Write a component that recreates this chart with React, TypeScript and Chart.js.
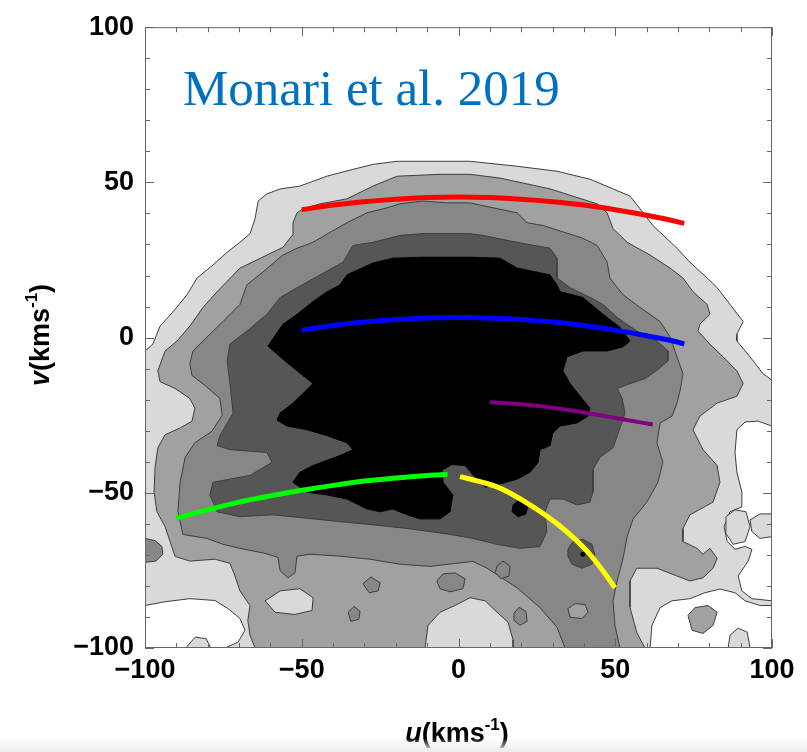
import React, { useEffect, useRef } from "react";
import { Chart, registerables } from "chart.js";

Chart.register(...registerables);

type P = [number, number];

// ---- contour polygons (u, v in km/s) ----
const level1Outer: P[] = [
  [-100, -4.3], [-97.5, -2.1], [-95.2, 3.7], [-91, 8.4], [-86.6, 13.8], [-83.4, 19.2], [-78.3, 23.4],
  [-73.8, 27.5], [-69.7, 30.7], [-66.5, 33.5], [-64.9, 38.3], [-63.9, 44], [-61.1, 46.3], [-56.9, 47.9],
  [-50.6, 48.8], [-42, 52], [-33.7, 54.2], [-27.3, 55.8], [-19.6, 56.8], [-10, 56.8], [3.7, 56.8],
  [18.7, 55.2], [31.4, 53.6], [42, 51], [54.7, 45.6], [57.9, 41.5], [62, 36.1], [69.7, 28.8],
  [73.8, 24.3], [79.3, 19.2], [82.5, 16.1], [86.6, 10.7], [90.8, 5.2], [88.8, 1.1], [88.8, -1.1],
  [93, -6.2], [97.1, -11.6], [100, -13.8], [100, -100], [-100, -100],
];

const whiteHoleLeft: P[] = [
  [-100, -86.3], [-93.6, -85.1], [-85.7, -84.1], [-77.7, -84.7], [-73.5, -87.3], [-69.7, -90.5],
  [-68.1, -94.3], [-70.3, -98.1], [-74.5, -100], [-79, -100], [-80.5, -97], [-84, -96.5], [-87, -100],
  [-100, -100],
];
const whiteHoleRight: P[] = [
  [88.8, -29.7], [91.4, -27.2], [95.5, -26.9], [100, -28.5], [100, -84.8], [93.6, -84.1], [90.4, -81.6],
  [89.2, -76.8], [92.4, -72.0], [93.6, -68.2], [91.4, -67.3], [88.2, -68.2], [85.7, -65.7], [84.7, -60.9],
  [86.6, -56.1], [90.4, -54.5], [90.4, -49.8], [88.8, -43.4], [88.2, -37.0],
];
const whiteHoleBottomRight: P[] = [
  [61.1, -100], [61.7, -92.7], [64.3, -87.0], [68.1, -84.8], [73.8, -84.1], [78.6, -82.2], [83.4, -81.0],
  [88.2, -82.2], [91.4, -84.8], [96.2, -86.3], [100, -86.3], [100, -100],
];

const lightInWhiteA: P[] = [[85.3, -57.7], [88.2, -55.5], [91.7, -56.1], [93.0, -60.9], [91.4, -65.7], [87.6, -66.6], [85.3, -63.1]];
const lightInWhiteB: P[] = [[93.0, -58.7], [96.2, -56.8], [100, -56.8], [100, -64.1], [96.2, -64.7], [93.6, -62.5]];
const lightCircleBottomRight: P[] = [[86, -100], [86.6, -95.9], [89.2, -93.6], [92.1, -94.9], [93, -100]];
const grayBlobInWhite: P[] = [[73.2, -89.5], [75.4, -87.0], [79.6, -86.3], [82.5, -88.5], [81.2, -92.7], [78.0, -95.3], [74.5, -94.3]];

const level2Region: P[] = [
  [-95.9, -10.7], [-93.6, -4.3], [-89.8, -1.1], [-85.7, 3.7], [-81.5, 9.7], [-77.0, 14.8], [-69.7, 22.4],
  [-61.1, 26.6], [-56.0, 29.1], [-53.1, 32.9], [-52.8, 37.0], [-51.5, 40.2], [-49.6, 41.5], [-44.2, 43.1],
  [-35.6, 44.7], [-27.3, 48.8], [-19.6, 52.0], [-5.9, 52.6], [3.7, 52.6], [13.2, 51.4], [29.2, 47.9],
  [44.2, 43.1], [47.4, 40.2], [49.3, 35.1], [53.8, 30.7], [61.1, 26.6], [67.5, 22.4], [71.6, 19.2],
  [74.8, 14.8], [79.3, 10.7], [80.2, 7.5], [77.0, 4.3], [76.4, 2.1], [80.2, -2.1], [84.4, -6.2],
  [88.8, -10.7], [90.8, -14.8], [88.8, -18.9], [82.5, -21.1], [77.0, -25.3], [74.8, -29.7], [78.0, -36.1],
  [82.5, -41.2], [83.4, -46.6], [81.2, -53.0], [73.8, -57.1], [71.6, -61.5], [71.6, -65.7], [76.1, -67.9],
  [78.0, -69.8], [80.2, -67.9], [82.5, -71.1], [81.2, -74.3], [78.0, -77.4], [73.8, -78.4], [63.3, -74.3],
  [56.9, -74.3], [54.7, -78.4], [54.7, -86.9], [56.9, -95.1], [59.5, -100], [-64.9, -100], [-66.5, -95.9],
  [-67.2, -91.1], [-66.5, -86.3], [-69.7, -81.6], [-71.3, -76.8], [-72.9, -72.7], [-77.7, -71.4],
  [-85.7, -72.0], [-90.4, -70.5], [-92.0, -65.7], [-93.6, -60.9], [-96.2, -56.1], [-97.1, -49.8],
  [-96.8, -41.8], [-95.9, -35.5], [-93.6, -31.3], [-88.8, -29.1], [-85.0, -26.9], [-84.1, -22.7],
  [-85.7, -19.6], [-90.4, -16.4], [-95.2, -14.2],
];

const lightBlobBottom: P[] = [
  [-10.7, -100], [-9.7, -92.7], [-5.9, -88.5], [-1.1, -86.3], [3.7, -83.8], [8.5, -84.8], [12.3, -88.5],
  [15.8, -91.7], [17.4, -97.4], [17.4, -100],
];
const lightBumpLeft: P[] = [[-61.7, -84.8], [-56.9, -81.6], [-50.6, -80.9], [-46.4, -83.8], [-46.7, -87.9], [-52.2, -89.2], [-58.5, -88.5]];

const level3Region: P[] = [
  [-85.7, -8.4], [-84.7, -4.3], [-80.2, 0.2], [-75.1, 5.2], [-69.7, 10.7], [-67.5, 17.0], [-62.4, 21.1],
  [-56.0, 26.6], [-51.5, 28.8], [-46.4, 30.7], [-41.0, 33.9], [-35.6, 37.0], [-29.2, 40.2], [-22.8, 41.8],
  [-18.7, 43.1], [-11.3, 44.0], [-3.7, 43.4], [3.7, 43.4], [7.8, 42.5], [18.7, 40.2], [21.9, 37.0],
  [27.0, 36.1], [39.7, 32.0], [44.2, 29.7], [47.4, 24.3], [48.3, 19.2], [52.5, 13.8], [57.9, 9.7],
  [64.3, 5.2], [67.5, 0.2], [69.7, -6.2], [71.6, -11.6], [70.7, -17.0], [69.7, -21.1], [68.1, -25.3],
  [64.3, -27.5], [63.3, -33.9], [65.2, -40.2], [63.6, -46.6], [60.1, -53.0], [55.7, -58.4], [53.8, -64.1],
  [52.5, -71.1], [50.6, -78.4], [49.3, -84.8], [49.9, -92.7], [51.5, -100], [34.0, -100], [31.4, -93.3],
  [26.0, -87.0], [18.7, -80.6], [9.1, -74.3], [4.6, -72.1], [-9.1, -73.7], [-18.7, -73.0], [-28.2, -71.4],
  [-37.8, -70.4], [-47.4, -69.8], [-51.5, -70.4], [-52.2, -75.8], [-54.4, -77.4], [-56.9, -75.1],
  [-57.6, -70.8], [-61.7, -69.5], [-69.7, -67.9], [-75.1, -66.6], [-80.2, -64.7], [-87.9, -63.4],
  [-89.5, -56.1], [-88.8, -46.6], [-87.2, -38.6], [-84.1, -33.9], [-78.6, -30.1], [-75.4, -25.0],
  [-76.1, -19.6], [-80.9, -15.4], [-85.0, -12.2],
];

const level3Islands: P[][] = [
  [[12.3, -73.6], [14.2, -72.0], [16.4, -73.6], [16.1, -76.8], [13.6, -77.7], [11.7, -75.8]],
  [[-6.9, -78.4], [-4.9, -76.1], [-1.1, -75.8], [2.1, -77.7], [1.4, -80.9], [-2.7, -81.9], [-5.9, -80.9]],
  [[17.7, -88.8], [19.3, -86.9], [21.5, -88.2], [21.9, -91.4], [19.6, -92.7], [17.7, -91.1]],
  [[-30.5, -79.3], [-27.9, -77.1], [-25.0, -79.0], [-25.6, -81.6], [-28.5, -82.2]],
  [[-35.2, -88.5], [-33.3, -86.6], [-31.4, -88.2], [-31.8, -90.8], [-34.3, -91.4]],
  [[-100, -64.7], [-96.8, -65.4], [-94.6, -67.3], [-94.3, -69.8], [-96.5, -72.0], [-100, -72.4]],
];
const level2IslandInLevel3: P[] = [[34.9, -87.3], [37.2, -85.7], [40.4, -86.0], [41.3, -88.5], [39.4, -90.5], [35.6, -90.1]];

const level4Region: P[] = [
  [-73.8, -7.5], [-72.9, -2.1], [-67.5, 2.1], [-61.1, 7.5], [-56.9, 12.9], [-51.5, 16.1], [-44.2, 20.2],
  [-36.8, 24.3], [-33.7, 29.7], [-27.3, 30.7], [-18.7, 32.9], [-11.3, 33.5], [-5.9, 33.5], [3.7, 33.5],
  [7.8, 32.9], [18.7, 30.7], [29.2, 28.8], [31.4, 25.6], [31.4, 19.2], [35.6, 16.1], [42.0, 12.9],
  [46.1, 10.7], [50.6, 6.5], [56.9, 2.1], [63.3, -1.1], [66.8, -4.3], [66.8, -7.5], [63.6, -10.3],
  [59.5, -13.2], [54.7, -14.8], [50.6, -16.4], [52.2, -19.6], [53.1, -24.3], [51.5, -29.1], [49.3, -35.5],
  [45.1, -38.6], [42.9, -42.5], [42.9, -49.8], [41.9, -53.0], [37.8, -53.9], [33.3, -52.0], [29.2, -52.0],
  [27.6, -56.1], [28.2, -62.5], [26.0, -67.3], [19.6, -67.9], [12.3, -66.6], [4.6, -64.7], [-2.7, -63.4],
  [-9.1, -62.5], [-16.4, -61.5], [-27.3, -60.3], [-37.8, -59.3], [-46.4, -58.4], [-59.2, -57.1],
  [-69.7, -57.7], [-77.0, -56.1], [-79.3, -50.7], [-78.3, -46.6], [-66.5, -44.4], [-59.5, -40.2],
  [-61.1, -37.0], [-72.9, -36.1], [-77.0, -34.8], [-76.1, -31.6], [-71.9, -24.3], [-72.9, -14.8],
];
const level4Circle: P[] = [
  [34.9, -68.2], [36.5, -65.7], [39.7, -65.0], [42.6, -66.6], [43.5, -69.8], [42.6, -73.0], [39.4, -74.3],
  [36.2, -73.0], [34.9, -70.4],
];

const level5Region: P[] = [
  [-60.8, -2.7], [-56.0, 4.3], [-51.5, 7.5], [-46.4, 11.6], [-41.9, 14.8], [-37.8, 17.0], [-35.6, 20.2],
  [-33.7, 21.1], [-27.3, 24.0], [-20.9, 25.6], [-11.3, 25.9], [3.7, 25.9], [13.2, 25.6], [18.7, 22.4],
  [29.2, 20.2], [31.4, 17.0], [32.4, 14.8], [39.7, 12.9], [46.1, 7.5], [51.5, 3.3], [54.7, -1.1],
  [52.5, -3.0], [47.4, -4.3], [39.7, -4.3], [34.6, -6.2], [33.3, -10.7], [35.6, -14.8], [38.8, -18.9],
  [41.9, -22.7], [41.3, -25.3], [37.8, -27.5], [32.4, -28.5], [30.1, -30.7], [29.2, -34.8], [26.0, -36.1],
  [25.4, -40.2], [22.8, -43.4], [18.7, -45.6], [13.2, -47.2], [8.5, -48.2], [5.3, -45.0], [2.1, -41.2],
  [-2.1, -40.9], [-5.3, -42.8], [-4.9, -46.6], [-1.8, -50.7], [-2.7, -56.1], [-5.9, -58.4], [-12.3, -58.4],
  [-16.4, -57.1], [-20.9, -55.2], [-25.0, -56.1], [-29.2, -55.2], [-35.6, -52.0], [-41.9, -50.7],
  [-48.3, -49.8], [-52.8, -46.6], [-50.6, -43.4], [-46.4, -41.2], [-37.8, -38.0], [-33.7, -36.1],
  [-35.6, -33.9], [-41.9, -31.6], [-48.3, -29.7], [-54.7, -28.5], [-57.9, -26.6], [-56.9, -24.3],
  [-52.8, -21.1], [-49.6, -18.0], [-46.4, -14.8], [-51.5, -10.7], [-56.9, -6.2],
];
const level5Blob: P[] = [[17.4, -53.9], [19.6, -52.0], [22.2, -53.9], [21.5, -56.8], [19.0, -57.7], [17.1, -56.1]];
const level5Dot: P[] = [[39.7, -69.8]];

// ---- resonance curves ----
const redU = [-50, -40, -30, -20, -10, 0, 10, 20, 30, 40, 50, 60, 70, 72];
const redV = [41.2, 42.7, 43.8, 44.6, 45.1, 45.3, 45.1, 44.6, 43.8, 42.7, 41.2, 39.4, 37.3, 36.8];
const blueU = [-50, -40, -30, -20, -10, 0, 10, 20, 30, 40, 50, 60, 70, 72];
const blueV = [2.4, 3.9, 5.0, 5.8, 6.3, 6.5, 6.3, 5.8, 5.0, 3.9, 2.4, 0.6, -1.5, -2.1];
const purpleU = [10, 20, 30, 40, 50, 62];
const purpleV = [-20.8, -21.5, -22.6, -24.1, -25.9, -28.0];
const greenU = [-90, -80, -70, -60, -50, -40, -30, -20, -10, -3.5];
const greenV = [-58.2, -55.5, -53.0, -51.0, -49.2, -47.6, -46.2, -45.2, -44.4, -44.1];
const yellowU = [0.5, 12.3, 22.8, 33.3, 41.0, 46.1, 49.9];
const yellowV = [-44.8, -48.1, -53.9, -61.5, -68.8, -75.2, -80.6];

const tickValues = [-100, -90, -80, -70, -60, -50, -40, -30, -20, -10, 0, 10, 20, 30, 40, 50, 60, 70, 80, 90, 100];

const C1 = "#d9d9d9";
const C2 = "#a1a1a1";
const C3 = "#878787";
const C4 = "#565656";
const C5 = "#000000";
const WHITE = "#ffffff";
const EDGE = "#3e3e3e";

function polygon(points: P[], color: string, edge: string = EDGE) {
  const data = [...points, points[0]].map(([x, y]) => ({ x, y }));
  return {
    type: "line",
    data,
    fill: "shape",
    backgroundColor: color,
    borderColor: edge,
    borderWidth: 1,
    pointRadius: 0,
    pointHoverRadius: 0,
    tension: 0,
  };
}

function curve(us: number[], vs: number[], color: string, width: number) {
  return {
    type: "line",
    data: us.map((u, i) => ({ x: u, y: vs[i] })),
    fill: false,
    borderColor: color,
    backgroundColor: color,
    borderWidth: width,
    borderCapStyle: "butt",
    pointRadius: 0,
    pointHoverRadius: 0,
    tension: 0.4,
    cubicInterpolationMode: "monotone",
  };
}

const framePlugin = {
  id: "frameTicks",
  afterDraw(chart: any) {
    const { ctx, chartArea, scales } = chart;
    const { left, right, top, bottom } = chartArea;
    ctx.save();
    ctx.strokeStyle = "#666666";
    ctx.lineWidth = 1;
    ctx.strokeRect(left + 0.5, top + 0.5, right - left - 1, bottom - top - 1);
    ctx.beginPath();
    for (const t of tickValues) {
      const len = t % 50 === 0 ? 9 : 5;
      const px = Math.round(scales.x.getPixelForValue(t)) + 0.5;
      ctx.moveTo(px, bottom);
      ctx.lineTo(px, bottom - len);
      ctx.moveTo(px, top);
      ctx.lineTo(px, top + len);
      const py = Math.round(scales.y.getPixelForValue(t)) + 0.5;
      ctx.moveTo(left, py);
      ctx.lineTo(left + len, py);
      ctx.moveTo(right, py);
      ctx.lineTo(right - len, py);
    }
    ctx.stroke();
    ctx.restore();
  },
};

const tickFont = { family: "'Liberation Sans', Arial, sans-serif", weight: "bold" as const, size: 27 };
const fmt = (v: any) => String(v).replace("-", "\u2212");

export default function App() {
  const ref = useRef<HTMLCanvasElement | null>(null);

  useEffect(() => {
    if (!ref.current) return;
    const layers: any[] = [
      polygon(level1Outer, C1),
      polygon(whiteHoleLeft, WHITE),
      polygon(whiteHoleRight, WHITE),
      polygon(whiteHoleBottomRight, WHITE),
      polygon(lightInWhiteA, C1),
      polygon(lightInWhiteB, C1),
      polygon(lightCircleBottomRight, C1),
      polygon(grayBlobInWhite, C2),
      polygon(level2Region, C2),
      polygon(lightBlobBottom, C1),
      polygon(lightBumpLeft, C1),
      polygon(level3Region, C3),
      ...level3Islands.map((p) => polygon(p, C3)),
      polygon(level2IslandInLevel3, C2),
      polygon(level4Region, C4),
      polygon(level4Circle, C4),
      polygon(level5Region, C5, C5),
      polygon(level5Blob, C5, C5),
      {
        type: "line",
        data: level5Dot.map(([x, y]) => ({ x, y })),
        showLine: false,
        pointRadius: 2.5,
        pointBackgroundColor: "#000",
        pointBorderWidth: 0,
      },
      curve(greenU, greenV, "#00ff00", 5),
      curve(yellowU, yellowV, "#ffff00", 5),
      curve(purpleU, purpleV, "#800080", 4),
      curve(blueU, blueV, "#0000ff", 5),
      curve(redU, redV, "#ff0000", 5),
    ];
    const n = layers.length;
    layers.forEach((d, i) => (d.order = n - i));

    const chart = new Chart(ref.current, {
      type: "line",
      data: { datasets: layers },
      options: {
        responsive: false,
        animation: false,
        devicePixelRatio: 1,
        layout: { padding: { left: 0, right: 35, top: 19, bottom: 0 } },
        plugins: { legend: { display: false }, tooltip: { enabled: false } },
        events: [],
        scales: {
          x: {
            type: "linear",
            min: -100,
            max: 100,
            grid: { display: false, drawTicks: false },
            border: { display: false },
            ticks: { stepSize: 50, padding: 6, font: tickFont, color: "#000", maxRotation: 0, autoSkip: false, callback: fmt },
            afterFit: (s: any) => {
              s.height = 104;
            },
          },
          y: {
            type: "linear",
            min: -100,
            max: 100,
            grid: { display: false, drawTicks: false },
            border: { display: false },
            ticks: { stepSize: 50, padding: 11, font: tickFont, color: "#000", autoSkip: false, callback: fmt },
            afterFit: (s: any) => {
              s.width = 145;
            },
          },
        },
      } as any,
      plugins: [framePlugin],
    } as any);
    return () => chart.destroy();
  }, []);

  const titleStyle: React.CSSProperties = {
    position: "absolute",
    fontFamily: "'Liberation Sans', Arial, sans-serif",
    fontWeight: "bold",
    fontSize: 27,
    lineHeight: "30px",
    height: 30,
    color: "#000",
    whiteSpace: "nowrap",
    textAlign: "center",
    width: 200,
  };
  const supStyle: React.CSSProperties = { fontSize: 17, verticalAlign: "top", lineHeight: "17px", position: "relative", top: -2 };

  return (
    <div style={{ position: "fixed", left: 0, top: 0, width: 807, height: 752, background: "#fff", overflow: "hidden" }}>
      <canvas ref={ref} width={807} height={752} style={{ position: "absolute", left: 0, top: 0, width: 807, height: 752 }} />
      <div
        style={{
          position: "absolute",
          left: 183,
          top: 63,
          fontFamily: "'Liberation Serif', 'Times New Roman', serif",
          fontSize: 51,
          lineHeight: "51px",
          color: "#0070c0",
          whiteSpace: "nowrap",
        }}
      >
        Monari et al. 2019
      </div>
      <div style={{ ...titleStyle, left: 357, top: 718 }}>
        <i>u</i>(kms<span style={supStyle}>-1</span>)
      </div>
      <div style={{ ...titleStyle, left: -60, top: 320, transform: "rotate(-90deg)", transformOrigin: "100px 15px" }}>
        <i>v</i>(kms<span style={supStyle}>-1</span>)
      </div>
      <div
        style={{
          position: "absolute",
          left: 0,
          top: 738,
          width: 807,
          height: 14,
          background: "linear-gradient(to bottom, rgba(240,240,240,0), #ececec)",
        }}
      />
    </div>
  );
}
